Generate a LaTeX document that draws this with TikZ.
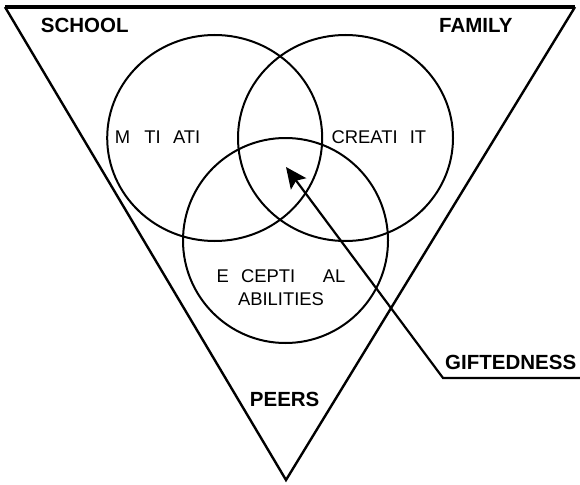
\documentclass[tikz,border=0pt]{standalone}
\usepackage{fontspec}
\setmainfont{Liberation Sans}
\usetikzlibrary{arrows.meta}

\begin{document}
\begin{tikzpicture}[x=1pt, y=-1pt,
      ENV/.style = {font=\fontsize{20.5}{24}\selectfont\bfseries, inner sep=0pt, anchor=base west},
      TRAIT/.style = {font=\fontsize{18.4}{22}\selectfont, inner sep=0pt, anchor=base west},
      RING/.style = {draw, line width=2pt},
      ARR/.style = {line width=2.2pt, -{Stealth[length=21pt, width=19pt, inset=4pt]}} ]
\useasboundingbox (0,0) rectangle (580,484);

\coordinate (tl)  at (5,7);
\coordinate (tr)  at (575,7);
\coordinate (bot) at (286,480);
\draw[line width=2.4pt] (tl) -- (bot) -- (tr);
\draw[line width=4pt] (tl) -- (tr);

\draw[RING] (214.7,138) ellipse [x radius=107.5pt, y radius=103pt];
\draw[RING] (345.5,138) ellipse [x radius=107.5pt, y radius=103pt];
\draw[RING] (285.5,240.5) ellipse [x radius=102.5pt, y radius=102.5pt];

\node (school) [ENV] at (40.7,33)  {SCHOOL};
\node (family) [ENV] at (439,33)   {FAMILY};
\node (peers)  [ENV] at (249.7,406.7) {PEERS};
\node (gift)   [ENV] at (445,369)  {GIFTEDNESS};

\node (mot)  [TRAIT] at (114.6,143.3) {M\hphantom{O}TI\hphantom{V}ATI};
\node (cre)  [TRAIT] at (331.3,143.3) {CREATI\hphantom{V}IT};
\node (exc)  [TRAIT, anchor=base] at (281,282) {E\hphantom{X}CEPTI\hphantom{ON}AL};
\node (abil) [TRAIT, anchor=base] at (281,305.7) {ABILITIES};

\coordinate (rim)  at (580,378);
\coordinate (bend) at (443,378);
\coordinate (tip)  at (286,167);
\draw[ARR] (rim) -- (bend) -- (tip);
\end{tikzpicture}
\end{document}
